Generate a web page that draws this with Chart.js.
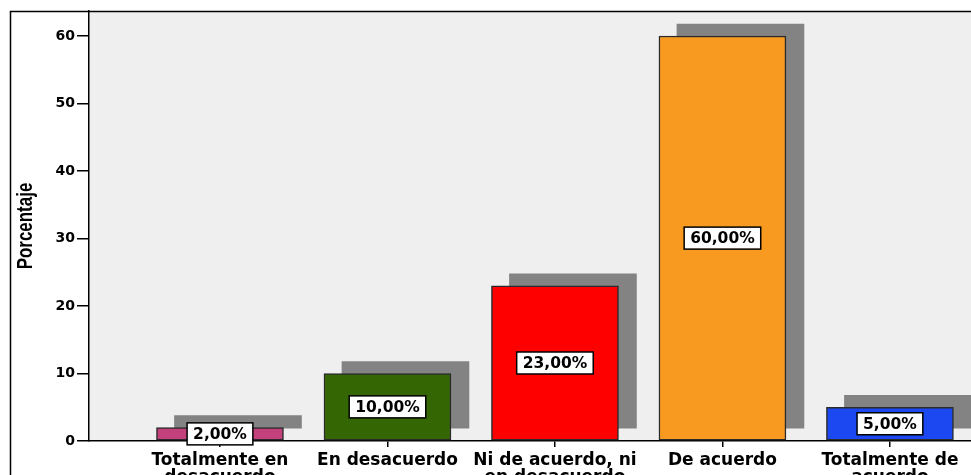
<!DOCTYPE html>
<html>
<head>
<meta charset="utf-8">
<script src="https://cdn.jsdelivr.net/npm/chart.js@4/dist/chart.umd.min.js"></script>
<style>
  html, body { margin: 0; padding: 0; background: #fff; }
  canvas { display: block; }
</style>
</head>
<body>
<canvas id="grafico" width="971" height="475"></canvas>
<script>
// datos
var categorias = [
  ["Totalmente en", "desacuerdo"],
  ["En desacuerdo"],
  ["Ni de acuerdo, ni", "en desacuerdo"],
  ["De acuerdo"],
  ["Totalmente de", "acuerdo"]
];
var porcentajes = [2, 10, 23, 60, 5];
var colores = ["#c2417c", "#346604", "#ff0000", "#f89a1f", "#1c48f2"];
var yTicks = [0, 10, 20, 30, 40, 50, 60];
var tituloY = "Porcentaje";

var puntos = porcentajes.map(function(v, i) { return { x: i, y: v }; });

var SOMBRA_DX = 18, SOMBRA_DY = -12;

var fondoYMarco = {
  id: "fondoYMarco",
  beforeDraw: function(chart) {
    var ctx = chart.ctx, a = chart.chartArea;
    ctx.save();
    ctx.fillStyle = "#fff";
    ctx.fillRect(0, 0, chart.width, chart.height);
    ctx.fillStyle = "#efefef";
    ctx.fillRect(a.left, a.top, a.right - a.left, a.bottom - a.top);
    ctx.restore();
  },
  beforeDatasetDraw: function(chart, args) {
    if (args.index === 1) {
      chart.ctx.save();
      chart.ctx.translate(SOMBRA_DX, SOMBRA_DY);
    }
  },
  afterDatasetDraw: function(chart, args) {
    if (args.index === 1) chart.ctx.restore();
  },
  afterDatasetsDraw: function(chart) {
    var ctx = chart.ctx;
    var meta = chart.getDatasetMeta(0);
    ctx.save();
    ctx.font = "bold 15.5px 'DejaVu Sans'";
    ctx.textAlign = "center";
    ctx.textBaseline = "middle";
    meta.data.forEach(function(el, i) {
      var txt = porcentajes[i].toFixed(2).replace(".", ",") + "%";
      var w = ctx.measureText(txt).width + 12, h = 22;
      var cx = el.x, cy = (el.y + el.base) / 2;
      ctx.fillStyle = "#fff";
      ctx.fillRect(cx - w / 2, cy - h / 2, w, h);
      ctx.lineWidth = 1.5;
      ctx.strokeStyle = "#000";
      ctx.strokeRect(cx - w / 2, cy - h / 2, w, h);
      ctx.fillStyle = "#000";
      ctx.fillText(txt, cx, cy + 1);
    });
    ctx.restore();
  },
  afterDraw: function(chart) {
    var ctx = chart.ctx, a = chart.chartArea;
    ctx.save();
    ctx.strokeStyle = "#000";
    ctx.lineWidth = 1.5;
    ctx.beginPath();
    ctx.moveTo(10.5, chart.height);
    ctx.lineTo(10.5, 11.5);
    ctx.lineTo(chart.width, 11.5);
    ctx.stroke();
    // titulo del eje Y, letra estrecha
    ctx.translate(32, (a.top + a.bottom) / 2);
    ctx.rotate(-Math.PI / 2);
    ctx.scale(0.77, 1);
    ctx.font = "bold 22px 'Liberation Sans'";
    ctx.fillStyle = "#000";
    ctx.textAlign = "center";
    ctx.textBaseline = "alphabetic";
    ctx.fillText(tituloY, 0, 0);
    ctx.restore();
  }
};

new Chart(document.getElementById("grafico"), {
  type: "bar",
  data: {
    datasets: [{
      data: puntos,
      backgroundColor: colores,
      borderColor: "#2a2a2a",
      borderWidth: 1.5,
      borderSkipped: false,
      barThickness: 127,
      grouped: false,
      clip: false
    }, {
      data: puntos,
      backgroundColor: "#838383",
      borderWidth: 0,
      barThickness: 127,
      grouped: false,
      clip: false
    }]
  },
  options: {
    responsive: false,
    devicePixelRatio: 1,
    animation: false,
    layout: { padding: { top: 11, left: 10, right: 0, bottom: 0 } },
    plugins: {
      legend: { display: false },
      tooltip: { enabled: false }
    },
    scales: {
      x: {
        type: "linear",
        offset: false,
        min: -0.782,
        max: 4.484,
        afterBuildTicks: function(scale) {
          scale.ticks = categorias.map(function(c, i) { return { value: i }; });
        },
        afterFit: function(scale) { scale.height = 34; },
        grid: {
          offset: false,
          drawOnChartArea: false,
          drawTicks: true,
          tickLength: 6,
          color: "#000",
          lineWidth: 1.5
        },
        border: { color: "#000", width: 1.5 },
        ticks: {
          autoSkip: false,
          maxRotation: 0,
          minRotation: 0,
          padding: 6,
          color: "#000",
          font: { family: "DejaVu Sans", size: 17, weight: "bold", lineHeight: 0.95 },
          callback: function(v) { return categorias[v]; }
        }
      },
      y: {
        min: 0,
        max: 63.7,
        afterBuildTicks: function(scale) {
          scale.ticks = yTicks.map(function(v) { return { value: v }; });
        },
        afterFit: function(scale) { scale.width = 79; },
        grid: {
          drawOnChartArea: false,
          drawTicks: true,
          tickLength: 12,
          color: "#000",
          lineWidth: 1.5
        },
        border: { color: "#000", width: 1.5 },
        ticks: {
          padding: 2,
          color: "#000",
          font: { family: "DejaVu Sans", size: 14, weight: "bold" }
        },
        title: { display: false }
      }
    }
  },
  plugins: [fondoYMarco]
});
</script>
</body>
</html>
